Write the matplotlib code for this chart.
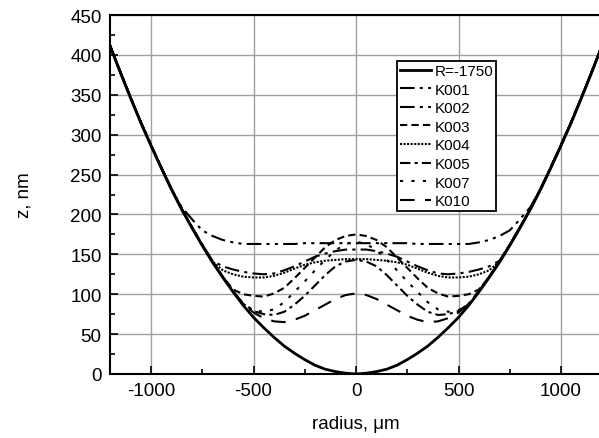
import matplotlib
matplotlib.use("Agg")
import matplotlib.pyplot as plt
import numpy as np
from matplotlib.ticker import MultipleLocator

# Eixo radial (um), amostrado a cada 50 um
radius = np.arange(-1200, 1201, 50)

# Perfil de referencia R=-1750 (nm)
sphere = [411, 378, 346, 315, 286, 258, 231, 206, 183, 161, 140, 121, 103, 86, 71, 58, 46, 35, 26, 18, 11, 6, 3, 1,
          0,
          1, 3, 6, 11, 18, 26, 35, 46, 58, 71, 86, 103, 121, 140, 161, 183, 206, 231, 258, 286, 315, 346, 378, 411]

k001 = [412, 379, 347, 316, 287, 259, 232, 207, 184, 162, 142, 135, 131, 128, 126, 125, 126, 130, 135, 141, 147, 151, 154, 156,
        156,
        156, 154, 151, 147, 141, 135, 130, 126, 125, 126, 128, 131, 135, 142, 162, 184, 207, 232, 259, 287, 316, 347, 379, 412]

k002 = [412, 379, 347, 316, 287, 259, 232, 209, 194, 180, 173, 168, 165, 163, 163, 163, 163, 163, 163, 164, 164, 164, 164, 164,
        164,
        164, 164, 164, 164, 164, 163, 163, 163, 163, 163, 163, 165, 168, 173, 180, 194, 209, 232, 259, 287, 316, 347, 379, 412]

k003 = [412, 379, 347, 316, 287, 259, 232, 207, 184, 162, 141, 122, 106, 100, 98, 97, 101, 108, 120, 133, 146, 159, 168, 173,
        175,
        173, 168, 159, 146, 133, 120, 108, 101, 97, 98, 100, 106, 122, 141, 162, 184, 207, 232, 259, 287, 316, 347, 379, 412]

k004 = [412, 379, 347, 316, 287, 259, 232, 207, 183, 161, 141, 130, 125, 122, 121, 121, 123, 127, 132, 137, 140, 142, 143, 144,
        144,
        144, 143, 142, 140, 137, 132, 127, 123, 121, 121, 122, 125, 130, 141, 161, 183, 207, 232, 259, 287, 316, 347, 379, 412]

k005 = [412, 379, 347, 316, 287, 259, 232, 207, 184, 162, 141, 122, 104, 88, 79, 75, 74, 78, 87, 98, 111, 124, 135, 141,
        143,
        141, 135, 124, 111, 98, 87, 78, 74, 75, 79, 88, 104, 122, 141, 162, 184, 207, 232, 259, 287, 316, 347, 379, 412]

k007 = [412, 379, 347, 316, 287, 259, 232, 207, 184, 162, 141, 122, 104, 88, 80, 78, 81, 90, 103, 116, 130, 143, 155, 163,
        166,
        163, 155, 143, 130, 116, 103, 90, 81, 78, 80, 88, 104, 122, 141, 162, 184, 207, 232, 259, 287, 316, 347, 379, 412]

k010 = [412, 379, 347, 316, 287, 259, 232, 207, 184, 162, 141, 122, 104, 88, 77, 70, 66, 65, 68, 73, 80, 87, 94, 99,
        101,
        99, 94, 87, 80, 73, 68, 65, 66, 70, 77, 88, 104, 122, 141, 162, 184, 207, 232, 259, 287, 316, 347, 379, 412]

series_labels = ["R=-1750", "K001", "K002", "K003", "K004", "K005", "K007", "K010"]
x_ticks = [-1000, -500, 0, 500, 1000]
y_ticks = [0, 50, 100, 150, 200, 250, 300, 350, 400, 450]

plt.rcParams["font.family"] = ["Liberation Sans", "DejaVu Sans"]
plt.rcParams["axes.unicode_minus"] = False

fig = plt.figure(figsize=(5.99, 4.39), dpi=100)
ax = fig.add_axes([110 / 599, 64 / 439, 492 / 599, 359 / 439])

series = [sphere, k001, k002, k003, k004, k005, k007, k010]
styles = ["-",
          (0, (7, 2.5, 1.5, 2.5)),
          (0, (7, 2.5, 1.5, 2.5, 1.5, 2.5)),
          (0, (3.5, 2)),
          (0, (1, 0.7)),
          (0, (5, 2, 1.5, 2)),
          (0, (1.5, 4)),
          (0, (7, 5))]
widths = [2.0, 1.5, 1.5, 1.5, 1.5, 1.5, 1.5, 1.5]

for values, label, ls, lw in zip(series, series_labels, styles, widths):
    ax.plot(radius, values, color="black", linestyle=ls, linewidth=lw, label=label)

ax.set_xlim(-1200, 1200)
ax.set_ylim(0, 450)
ax.set_xticks(x_ticks)
ax.set_yticks(y_ticks)
ax.xaxis.set_minor_locator(MultipleLocator(250))
ax.yaxis.set_minor_locator(MultipleLocator(25))
ax.tick_params(which="both", direction="in", top=False, right=False, labelsize=13.5, width=1.2)
ax.tick_params(which="major", length=6, pad=6)
ax.tick_params(which="minor", length=3.5)

ax.grid(True, which="major", color="#a0a0a0", linewidth=1.0)
ax.set_axisbelow(True)
for spine in ax.spines.values():
    spine.set_linewidth(1.5)

ax.set_xlabel("radius, \u03bcm", fontsize=13.5, labelpad=11)
ax.set_ylabel("z, nm", fontsize=13.5, labelpad=27)

leg = ax.legend(loc="upper left", bbox_to_anchor=(397 / 599, 1 - 62 / 439),
                bbox_transform=fig.transFigure, borderaxespad=0, fontsize=11,
                fancybox=False, framealpha=1, edgecolor="black", handlelength=2.0,
                handletextpad=0.25, labelspacing=0.3, borderpad=0.2)
leg.get_frame().set_linewidth(1.3)

fig.savefig("out.png", dpi=100)
